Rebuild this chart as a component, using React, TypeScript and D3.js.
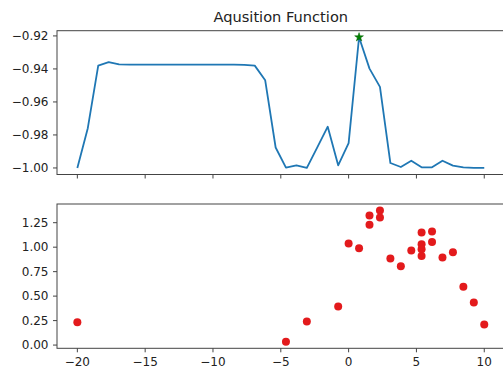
import React from "react";
import * as d3 from "d3";

const acqX = [-20, -19.23, -18.46, -17.69, -16.92, -16.15, -15.38, -14.62, -13.85, -13.08, -12.31, -11.54, -10.77, -10, -9.23, -8.46, -7.69, -6.92, -6.15, -5.38, -4.62, -3.85, -3.08, -2.31, -1.54, -0.77, 0, 0.77, 1.54, 2.31, 3.08, 3.85, 4.62, 5.38, 6.15, 6.92, 7.69, 8.46, 9.23, 10];
const acqY = [-1.0, -0.9759, -0.938, -0.9359, -0.9373, -0.9374, -0.9374, -0.9374, -0.9374, -0.9374, -0.9374, -0.9374, -0.9374, -0.9374, -0.9374, -0.9374, -0.9375, -0.938, -0.9469, -0.9876, -0.9998, -0.9984, -1.0, -0.9875, -0.975, -0.9984, -0.985, -0.9208, -0.9398, -0.9509, -0.997, -0.9994, -0.9956, -0.9996, -0.9996, -0.9956, -0.9986, -0.9996, -1.0, -1.0];

const sampleX = [-20, -4.62, -3.08, -0.77, 0, 0.77, 1.54, 1.54, 2.31, 2.31, 3.08, 3.85, 4.62, 5.38, 5.38, 5.38, 5.38, 6.15, 6.15, 6.92, 7.69, 8.46, 9.23, 10];
const sampleY = [0.232, 0.034, 0.242, 0.395, 1.038, 0.99, 1.323, 1.228, 1.374, 1.303, 0.885, 0.806, 0.966, 1.15, 1.031, 0.98, 0.911, 1.16, 1.054, 0.895, 0.949, 0.595, 0.436, 0.211];

const xTicks = [-20, -15, -10, -5, 0, 5, 10];
const topYTicks = [-1.0, -0.98, -0.96, -0.94, -0.92];
const botYTicks = [0, 0.25, 0.5, 0.75, 1.0, 1.25];
const title = "Aqusition Function";

const W = 503;
const H = 373;
const FONT = "DejaVu Sans, sans-serif";
const left = 57;
const right = 504.6;
const top1 = 30.7, bot1 = 174.5;
const top2 = 204, bot2 = 348.3;

function pad(ext: [number, number]): [number, number] {
  const m = (ext[1] - ext[0]) * 0.05;
  return [ext[0] - m, ext[1] + m];
}
const fmt = (v: number) => d3.format(".2f")(v).replace("-", "\u2212");
const fmtInt = (v: number) => String(v).replace("-", "\u2212");

export default function App() {
  const allX = [...acqX, ...sampleX];
  const x = d3.scaleLinear().domain(pad(d3.extent(allX) as [number, number])).range([left, right]);
  const y1 = d3.scaleLinear().domain(pad(d3.extent(acqY) as [number, number])).range([bot1, top1]);
  const y2 = d3.scaleLinear().domain(pad(d3.extent(sampleY) as [number, number])).range([bot2, top2]);

  const line = d3.line<number>().x((_, i) => x(acqX[i])).y((d) => y1(d));
  const best = d3.maxIndex(acqY);
  const star = d3.symbol().type(d3.symbolStar).size(24)();

  const spine = "#444";
  const txt = "#222";

  const frame = (t: number, b: number) => (
    <rect x={left} y={t} width={right - left} height={b - t} fill="none" stroke={spine} strokeWidth={1} />
  );

  const yAxis = (ticks: number[], sc: any, format: (v: number) => string) =>
    ticks.map((v) => (
      <g key={v}>
        <line x1={left - 4} x2={left} y1={sc(v)} y2={sc(v)} stroke={spine} strokeWidth={1} />
        <text x={left - 8.5} y={sc(v)} dy="0.36em" textAnchor="end" fontSize={12} fontFamily={FONT} fill={txt}>
          {format(v)}
        </text>
      </g>
    ));

  const xAxis = (b: number, labels: boolean) =>
    xTicks.map((v) => (
      <g key={v}>
        <line x1={x(v)} x2={x(v)} y1={b} y2={b + 4} stroke={spine} strokeWidth={1} />
        {labels && (
          <text x={x(v)} y={b + 18} textAnchor="middle" fontSize={12} fontFamily={FONT} fill={txt}>
            {fmtInt(v)}
          </text>
        )}
      </g>
    ));

  return (
    <svg width={W} height={H} style={{ position: "absolute", left: 0, top: 0, background: "#fff" }}>
      <rect x={0} y={0} width={W} height={H} fill="#fff" />
      <text x={(left + right) / 2} y={22} textAnchor="middle" fontSize={14.6} fontFamily={FONT} fill={txt}>
        {title}
      </text>
      {/* top axes */}
      <path d={line(acqY) || ""} fill="none" stroke="#1f77b4" strokeWidth={1.8} strokeLinejoin="round" />
      <path d={star} transform={`translate(${x(acqX[best])},${y1(acqY[best])})`} fill="#008000" stroke="#006400" strokeWidth={0.5} />
      {frame(top1, bot1)}
      {yAxis(topYTicks, y1, fmt)}
      {xAxis(bot1, false)}
      {/* bottom axes */}
      {sampleX.map((sx, i) => (
        <circle key={i} cx={x(sx)} cy={y2(sampleY[i])} r={4} fill="#e31a1c" />
      ))}
      {frame(top2, bot2)}
      {yAxis(botYTicks, y2, fmt)}
      {xAxis(bot2, true)}
    </svg>
  );
}
